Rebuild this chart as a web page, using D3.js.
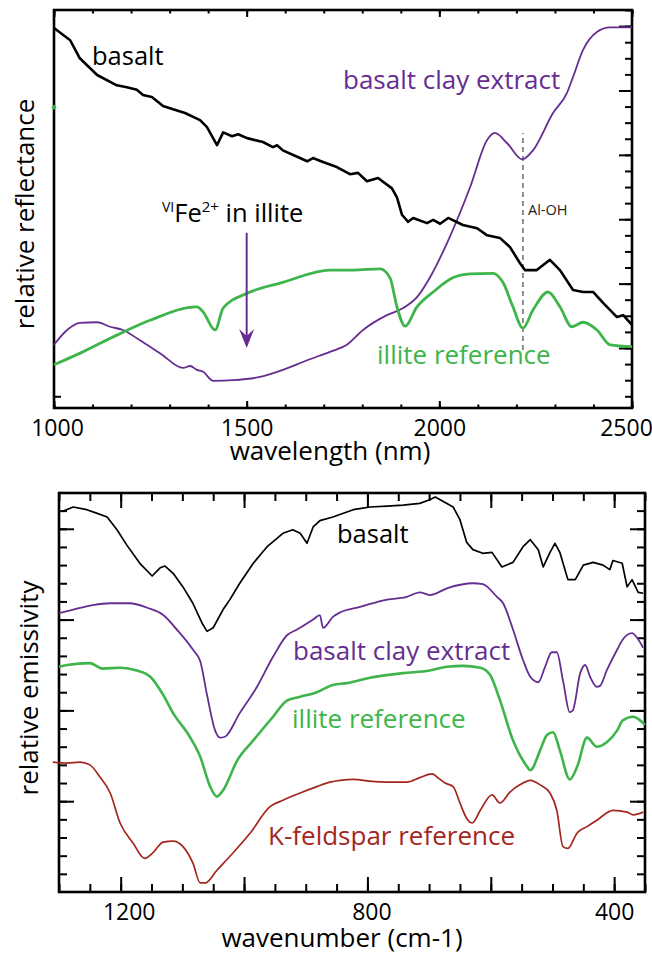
<!DOCTYPE html>
<html><head><meta charset="utf-8">
<script src="https://cdn.jsdelivr.net/npm/d3@7"></script>
<style>
html,body{margin:0;padding:0;background:#fff;}
svg text{font-family:"Open Sans",sans-serif;}
</style></head>
<body><svg id="c" width="652" height="955"></svg>
<script>
// ---------- DATA ----------
// Top panel: VNIR reflectance, [wavelength nm, relative reflectance]
const nirBasalt = [[1000,5.97],[1042,5.78],[1067,5.50],[1112,5.24],[1163,5.08],[1189,5.05],[1215,5.01],[1231,4.93],[1254,4.90],[1283,4.76],[1309,4.71],[1340,4.65],[1379,4.54],[1397,4.43],[1423,4.15],[1439,4.35],[1462,4.29],[1478,4.32],[1501,4.26],[1542,4.20],[1568,4.12],[1579,4.15],[1594,4.07],[1631,3.97],[1657,3.90],[1672,3.95],[1698,3.89],[1734,3.81],[1768,3.70],[1789,3.72],[1812,3.59],[1841,3.64],[1877,3.48],[1890,3.34],[1903,3.07],[1919,2.96],[1932,3.02],[1968,2.94],[1984,2.99],[2002,2.93],[2023,3.02],[2061,2.91],[2098,2.86],[2124,2.75],[2157,2.71],[2183,2.57],[2209,2.32],[2222,2.21],[2253,2.21],[2287,2.37],[2313,2.21],[2347,1.90],[2373,1.87],[2399,1.87],[2425,1.70],[2461,1.48],[2477,1.51],[2500,1.36]];
const nirClay = [[1000,1.05],[1034,1.28],[1067,1.39],[1112,1.40],[1145,1.33],[1179,1.28],[1223,1.12],[1275,0.92],[1335,0.69],[1353,0.72],[1371,0.66],[1387,0.63],[1413,0.49],[1465,0.50],[1535,0.55],[1594,0.66],[1657,0.81],[1716,0.94],[1760,1.05],[1802,1.28],[1864,1.51],[1906,1.62],[1942,1.79],[1976,2.10],[2020,2.63],[2080,3.50],[2124,4.23],[2144,4.34],[2176,4.18],[2215,3.93],[2243,4.07],[2295,4.65],[2331,4.96],[2347,5.21],[2373,5.63],[2409,5.91],[2443,5.98],[2500,5.98]];
const nirIllite = [[1000,0.74],[1075,0.94],[1163,1.20],[1249,1.43],[1371,1.64],[1387,1.56],[1418,1.28],[1439,1.62],[1501,1.85],[1594,2.02],[1716,2.21],[1776,2.21],[1846,2.23],[1872,2.09],[1890,1.64],[1911,1.34],[1942,1.64],[1984,1.87],[2035,2.09],[2080,2.15],[2139,2.16],[2165,2.02],[2191,1.64],[2217,1.31],[2243,1.59],[2282,1.87],[2313,1.64],[2344,1.33],[2373,1.40],[2409,1.28],[2443,1.05],[2500,1.02]];
const nirTickMajor = [1000,1500,2000,2500];
const alOH = {nm:2217, from:0.97, to:4.34};
const feArrow = {nm:1500, from:2.79, to:1.00};

// Bottom panel: TIR emissivity, [wavenumber cm-1, relative emissivity]
const tirBasalt = [[1295,4.19],[1277,4.24],[1255,4.21],[1238,4.17],[1222,4.13],[1206,3.99],[1190,3.82],[1169,3.62],[1149,3.48],[1136,3.57],[1128,3.59],[1115,3.51],[1099,3.36],[1083,3.18],[1068,2.96],[1060,2.87],[1050,2.91],[1034,3.11],[1023,3.22],[1007,3.40],[985,3.62],[963,3.80],[937,3.95],[921,3.99],[909,3.95],[898,3.84],[888,4.02],[877,4.09],[856,4.13],[823,4.21],[796,4.24],[768,4.25],[742,4.26],[715,4.28],[699,4.32],[690,4.35],[677,4.30],[661,4.24],[650,4.10],[639,3.85],[629,3.77],[613,3.73],[598,3.74],[582,3.58],[564,3.63],[548,3.80],[536,3.88],[523,3.77],[515,3.58],[504,3.74],[496,3.84],[488,3.74],[475,3.44],[463,3.44],[450,3.60],[434,3.63],[418,3.60],[407,3.55],[402,3.65],[387,3.62],[379,3.36],[371,3.44],[361,3.30],[353,3.29]];
const tirClay = [[1300,3.07],[1277,3.11],[1245,3.16],[1217,3.18],[1185,3.18],[1157,3.13],[1131,3.05],[1109,2.89],[1083,2.67],[1071,2.54],[1060,2.17],[1047,1.78],[1039,1.70],[1031,1.71],[1007,1.97],[979,2.26],[953,2.59],[930,2.83],[914,2.89],[888,3.00],[877,3.05],[872,2.91],[856,3.03],[844,3.08],[812,3.14],[768,3.22],[736,3.25],[715,3.30],[699,3.27],[669,3.35],[629,3.40],[613,3.39],[590,3.25],[580,3.18],[564,2.89],[548,2.56],[536,2.37],[523,2.31],[512,2.48],[501,2.64],[493,2.64],[483,2.33],[472,1.98],[467,2.00],[455,2.41],[447,2.50],[439,2.37],[428,2.26],[423,2.27],[412,2.44],[395,2.67],[386,2.78],[371,2.85],[363,2.80],[353,2.69]];
const tirIllite = [[1300,2.48],[1287,2.50],[1250,2.52],[1229,2.46],[1201,2.47],[1174,2.44],[1152,2.37],[1131,2.17],[1115,1.97],[1088,1.71],[1071,1.49],[1055,1.16],[1044,1.05],[1034,1.12],[1011,1.45],[985,1.67],[953,1.93],[930,2.11],[909,2.15],[882,2.20],[856,2.28],[833,2.30],[796,2.36],[742,2.41],[699,2.44],[671,2.48],[645,2.49],[617,2.47],[601,2.39],[585,2.11],[564,1.67],[541,1.38],[536,1.34],[520,1.56],[509,1.73],[499,1.76],[488,1.56],[472,1.24],[460,1.38],[444,1.70],[428,1.60],[412,1.65],[395,1.78],[386,1.89],[369,1.93],[358,1.89],[350,1.84]];
const tirFeldspar = [[1310,1.43],[1287,1.42],[1266,1.43],[1250,1.40],[1234,1.27],[1217,1.09],[1201,0.76],[1180,0.54],[1161,0.37],[1148,0.43],[1131,0.55],[1115,0.56],[1099,0.50],[1083,0.32],[1071,0.10],[1063,0.10],[1044,0.24],[1018,0.43],[990,0.65],[958,0.94],[937,1.01],[909,1.09],[882,1.16],[861,1.21],[844,1.23],[823,1.24],[796,1.22],[768,1.21],[736,1.21],[715,1.26],[695,1.30],[686,1.26],[674,1.20],[661,1.16],[650,0.98],[639,0.81],[630,0.76],[617,0.90],[598,1.07],[585,0.98],[569,1.10],[553,1.18],[536,1.23],[520,1.18],[504,1.09],[493,0.90],[483,0.50],[475,0.48],[460,0.65],[444,0.72],[428,0.79],[402,0.90],[379,0.88],[369,0.85],[353,0.88]];
const tirTickMajor = [1200,1000,800,600,400];
const tirTickLabels = [1200,800,400];

// ---------- DRAW ----------
const svg = d3.select('#c');
const C = {black:'#000', purple:'#662d91', green:'#3db54a', red:'#a3261f'};

function drawPanel(o){
  const g = svg.append('g');
  const x = o.x, y = o.y;
  const [x0,x1] = x.range(), [y0,y1] = y.range();
  const addAxis = (axisFn, tr, vals, size, fmt) => {
    const a = axisFn.tickValues(vals).tickSizeInner(size).tickSizeOuter(0).tickPadding(o.pad||6)
      .tickFormat(fmt || (()=>''));
    const ag = g.append('g').attr('transform', tr).call(a);
    ag.select('.domain').remove();
    ag.selectAll('.tick line').attr('stroke','#000').attr('stroke-width',2);
    ag.selectAll('.tick text').attr('fill','#000').attr('font-size',o.tickFont).attr('font-family','"Open Sans",sans-serif');
    return ag;
  };
  addAxis(d3.axisBottom(x), `translate(0,${y0})`, o.xMinor, -o.minorLen);
  const lab = addAxis(d3.axisBottom(x), `translate(0,${y0})`, o.xMajor, -o.majorLen, d => o.xLabels.includes(d) ? d : '');
  lab.selectAll('.tick text').attr('dx', d => (o.labelShift && o.labelShift[d]) || 0);
  addAxis(d3.axisTop(x), `translate(0,${y1})`, o.xMinor, -o.minorLen);
  addAxis(d3.axisTop(x), `translate(0,${y1})`, o.xMajor, -o.majorLen);
  addAxis(d3.axisRight(y), `translate(${x1},0)`, o.yMinor, -o.yMinorLen);
  addAxis(d3.axisRight(y), `translate(${x1},0)`, o.yMajor, -o.yMajorLen);
  addAxis(d3.axisLeft(y), `translate(${x0},0)`, o.yLeftMinor, -o.yMinorLen);
  addAxis(d3.axisLeft(y), `translate(${x0},0)`, o.yLeftMajor, -o.yMajorLen);
  g.append('rect').attr('x',x0).attr('y',y1).attr('width',x1-x0).attr('height',y0-y1)
    .attr('fill','none').attr('stroke','#000').attr('stroke-width',2.6);
  return g;
}

function line(g, x, y, data, color, w, curve){
  const pts = data.slice().sort((a,b)=>x(a[0])-x(b[0]));
  g.append('path').attr('d', d3.line().x(d=>x(d[0])).y(d=>y(d[1])).curve(curve||d3.curveLinear)(pts))
    .attr('fill','none').attr('stroke',color).attr('stroke-width',w).attr('stroke-linejoin','round');
}

// ----- top panel -----
const tx = d3.scaleLinear().domain([1000,2500]).range([54,632]);
const ty = d3.scaleLinear().domain([0.068,6.25]).range([408,10]);
const range = (a,b,s) => d3.range(a,b+s/2,s);
const gt = drawPanel({x:tx, y:ty, tickFont:23, pad:12,
  xMinor: range(1000,2500,100), xMajor: nirTickMajor, xLabels: nirTickMajor, labelShift:{1000:3, 2500:-6},
  minorLen:3.5, majorLen:7,
  yMinor: range(0.25,6.25,0.25), yMajor: range(1,6,1), yMinorLen:7, yMajorLen:13,
  yLeftMinor:[0.25], yLeftMajor:[]});

gt.append('line').attr('x1',tx(alOH.nm)).attr('x2',tx(alOH.nm)).attr('y1',ty(alOH.from)).attr('y2',ty(alOH.to))
  .attr('stroke','#555').attr('stroke-width',1.3).attr('stroke-dasharray','5,4');
line(gt, tx, ty, nirClay, C.purple, 1.8, d3.curveMonotoneX);
line(gt, tx, ty, nirIllite, C.green, 2.8, d3.curveMonotoneX);
line(gt, tx, ty, nirBasalt, C.black, 2.6, d3.curveLinear);
gt.append('circle').attr('cx',tx(1000)).attr('cy',ty(4.74)).attr('r',2.2).attr('fill',C.green);

const ax = tx(feArrow.nm), ayTop = ty(feArrow.from), ayTip = ty(feArrow.to);
gt.append('line').attr('x1',ax).attr('x2',ax).attr('y1',ayTop).attr('y2',ayTip-12)
  .attr('stroke',C.purple).attr('stroke-width',2);
gt.append('path').attr('d',`M${ax-7.5},${ayTip-19} L${ax},${ayTip-12} L${ax+7.5},${ayTip-19} L${ax},${ayTip} Z`)
  .attr('fill',C.purple);

const T = (g, txt, xx, yy, col, fs) => g.append('text').attr('x',xx).attr('y',yy).attr('fill',col).attr('font-size',fs).text(txt);
T(gt,'basalt',92,65,C.black,25.5);
T(gt,'basalt clay extract',343,89,C.purple,26);
T(gt,'illite reference',377,364,C.green,26);
T(gt,'Al-OH',528,215,'#222',14.5);
const fe = gt.append('text').attr('x',162).attr('y',222).attr('fill','#000').attr('font-size',25.5);
fe.append('tspan').attr('font-size',14).attr('dy',-10).text('VI');
fe.append('tspan').attr('dy',10).text('Fe');
fe.append('tspan').attr('font-size',15).attr('dy',-10).text('2+');
fe.append('tspan').attr('dy',10).text(' in illite');
gt.append('text').attr('x',330).attr('y',460).attr('text-anchor','middle').attr('font-size',26).text('wavelength (nm)');
gt.append('text').attr('transform','translate(34,214) rotate(-90)').attr('text-anchor','middle').attr('font-size',26).text('relative reflectance');

// ----- bottom panel -----
const bx = d3.scaleLinear().domain([1300,350]).range([59,645]);
const by = d3.scaleLinear().domain([0,4.394]).range([892,493]);
const gb = drawPanel({x:bx, y:by, tickFont:23, pad:12,
  xMinor: range(350,1300,50), xMajor: tirTickMajor, xLabels: tirTickLabels, labelShift:{1200:8, 800:4},
  minorLen:8, majorLen:15,
  yMinor: range(0.2,4.394,0.2), yMajor: range(1,4,1), yMinorLen:8, yMajorLen:15,
  yLeftMinor: range(0.2,4.394,0.2), yLeftMajor: range(1,4,1)});
line(gb, bx, by, tirFeldspar, C.red, 1.7, d3.curveMonotoneX);
line(gb, bx, by, tirIllite, C.green, 2.6, d3.curveMonotoneX);
line(gb, bx, by, tirClay, C.purple, 1.8, d3.curveMonotoneX);
line(gb, bx, by, tirBasalt, C.black, 1.7, d3.curveLinear);
T(gb,'basalt',337,543,C.black,25.5);
T(gb,'basalt clay extract',293,660,C.purple,26);
T(gb,'illite reference',292,728,C.green,26);
T(gb,'K-feldspar reference',268,845,C.red,26);
gb.append('text').attr('x',342).attr('y',947).attr('text-anchor','middle').attr('font-size',26).text('wavenumber (cm-1)');
gb.append('text').attr('transform','translate(38,688) rotate(-90)').attr('text-anchor','middle').attr('font-size',26).text('relative emissivity');
</script></body></html>
